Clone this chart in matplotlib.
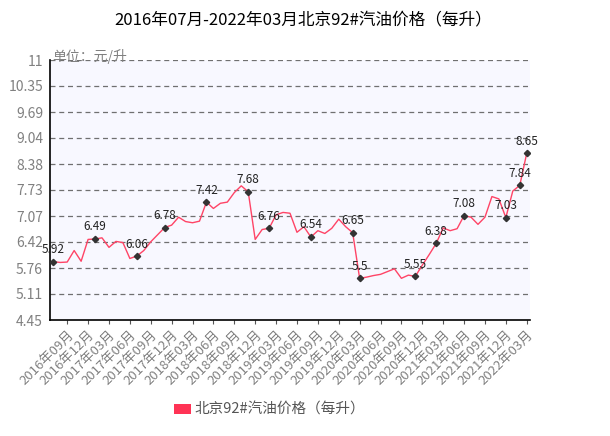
import matplotlib
matplotlib.use("Agg")
import matplotlib.pyplot as plt
from matplotlib.patches import Patch

plt.rcParams['font.family'] = ['Noto Sans CJK SC', 'DejaVu Sans']

months = [f"{y}年{m:02d}月" for y in range(2016, 2023) for m in range(1, 13)]
months = months[months.index("2016年07月"):months.index("2022年03月") + 1]

prices = [5.92, 5.90, 5.91, 6.20, 5.93, 6.48, 6.49, 6.52, 6.28, 6.43,
          6.40, 6.00, 6.06, 6.20, 6.42, 6.60, 6.78, 6.84, 7.04, 6.93,
          6.90, 6.94, 7.42, 7.26, 7.39, 7.42, 7.66, 7.83, 7.68, 6.48,
          6.73, 6.76, 7.10, 7.16, 7.14, 6.66, 6.80, 6.54, 6.70, 6.63,
          6.76, 6.99, 6.80, 6.65, 5.50, 5.53, 5.57, 5.60, 5.67, 5.74,
          5.50, 5.58, 5.55, 5.83, 6.10, 6.38, 6.77, 6.70, 6.75, 7.08,
          7.04, 6.86, 7.04, 7.56, 7.50, 7.03, 7.70, 7.84, 8.65]

marked_idx = [0, 6, 12, 16, 22, 28, 31, 37, 43, 44, 52, 55, 59, 65, 67, 68]
marked_labels = ["5.92", "6.49", "6.06", "6.78", "7.42", "7.68", "6.76", "6.54",
                 "6.65", "5.5", "5.55", "6.38", "7.08", "7.03", "7.84", "8.65"]

yticks = [4.45, 5.11, 5.76, 6.42, 7.07, 7.73, 8.38, 9.04, 9.69, 10.35, 11]
ytick_labels = ["4.45", "5.11", "5.76", "6.42", "7.07", "7.73", "8.38", "9.04", "9.69", "10.35", "11"]

xtick_labels = months[2::3]
xtick_pos = [months.index(l) for l in xtick_labels]

title = "2016年07月-2022年03月北京92#汽油价格（每升）"
series_name = "北京92#汽油价格（每升）"
unit = "单位：元/升"

fig = plt.figure(figsize=(6.10, 4.36), dpi=100)
ax = fig.add_axes([50/610, 1 - 320/436, 480/610, 260/436])
ax.set_facecolor('#f8f8ff')

x = list(range(len(prices)))
ax.plot(x, prices, color='#ff4466', lw=1.0, zorder=3)
mx = [x[i] for i in marked_idx]
my = [prices[i] for i in marked_idx]
ax.plot(mx, my, linestyle='none', marker='D', ms=3.2, color='#333333', zorder=4)
for xi, yi, lab in zip(mx, my, marked_labels):
    ax.annotate(lab, (xi, yi), xytext=(0, 4), textcoords='offset points',
                ha='center', va='bottom', fontsize=8.5, color='#222222', zorder=5)

ax.set_xlim(-0.47, len(prices) - 1 + 0.47)
ax.set_ylim(4.45, 11)
ax.set_yticks(yticks)
ax.set_yticklabels(ytick_labels, fontsize=10, color='#808080')
ax.tick_params(axis='y', length=0, pad=5)
ax.set_xticks(xtick_pos)
ax.set_xticklabels(xtick_labels, rotation=45, ha='right', rotation_mode='anchor',
                   fontsize=9.5, color='#808080')
ax.tick_params(axis='x', length=3, color='#555555', pad=3)

for yv in yticks[1:]:
    ax.axhline(yv, color='#707070', lw=0.9, ls=(0, (4, 3)), zorder=1)

for s in ['top', 'right']:
    ax.spines[s].set_visible(False)
for s in ['left', 'bottom']:
    ax.spines[s].set_color('black')
    ax.spines[s].set_linewidth(1.2)

fig.text(303/610, 1 - 20/436, title, ha='center', va='center', fontsize=12, color='black')
fig.text(52/610, 1 - 56/436, unit, ha='left', va='center', fontsize=10, color='#808080')

handles = [Patch(facecolor='#ff3355', edgecolor='none')]
fig.legend(handles, [series_name], loc='center', bbox_to_anchor=(270/610, 1 - 410/436),
           frameon=False, fontsize=10.5, handlelength=1.1, handleheight=0.7,
           handletextpad=0.3, labelcolor='#555555')

fig.savefig("out.png", dpi=100)
